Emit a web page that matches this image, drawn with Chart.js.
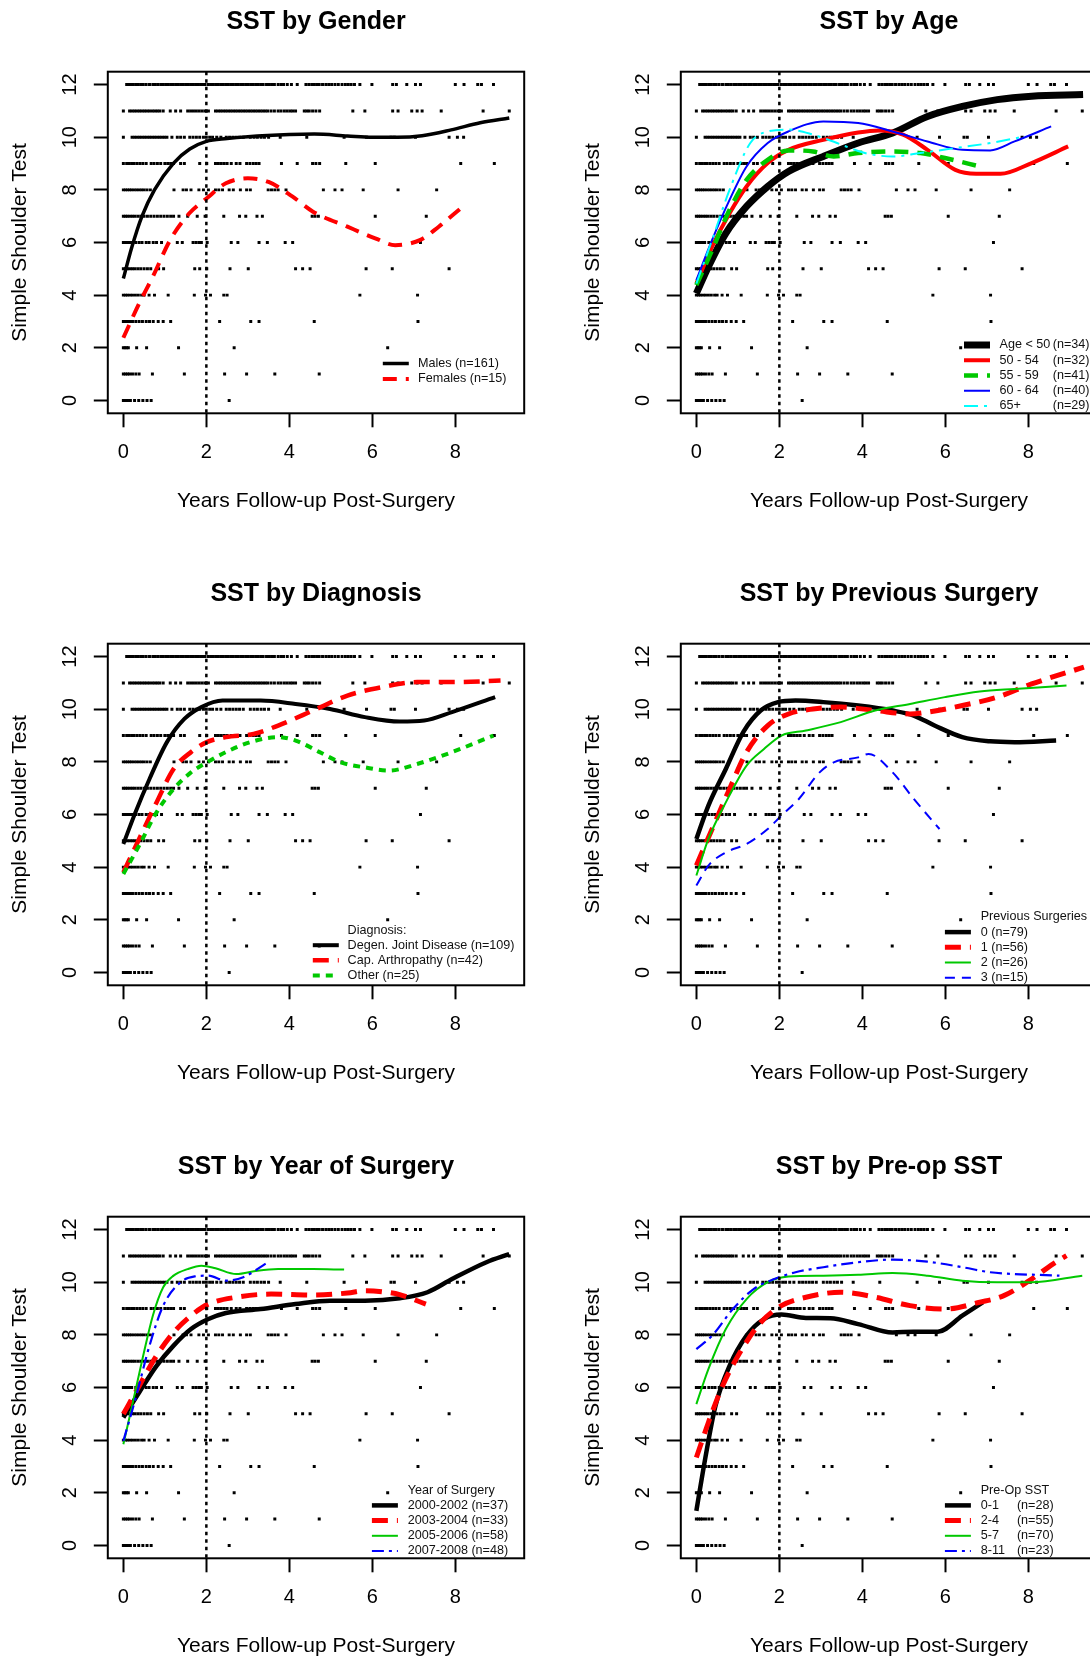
<!DOCTYPE html>
<html lang="en">
<head>
<meta charset="UTF-8">
<title>SST by subgroup</title>
<script src="https://cdn.jsdelivr.net/npm/chart.js"></script>
<style>
  html, body { margin: 0; padding: 0; background: #fff; overflow: hidden; width: 1090px; height: 1659px; }
  canvas { position: absolute; }
</style>
</head>
<body>
<canvas id="gender" width="545" height="572" style="left:0;top:0"></canvas>
<canvas id="age" width="545" height="572" style="left:573px;top:0"></canvas>
<canvas id="diagnosis" width="545" height="572" style="left:0;top:572px"></canvas>
<canvas id="previous" width="545" height="572" style="left:573px;top:572px"></canvas>
<canvas id="year" width="545" height="572" style="left:0;top:1145px"></canvas>
<canvas id="preop" width="545" height="572" style="left:573px;top:1145px"></canvas>

<script>
// ---- data ----
const sstLevels = [0, 1, 2, 3, 4, 5, 6, 7, 8, 9, 10, 11, 12];
// follow-up years of every observation, one list per SST score (same patients in every panel)
const followUpYears = [
  [0, 0.05, 0.1, 0.17, 0.27, 0.37, 0.47, 0.57, 0.67, 2.55],
  [0, 0.05, 0.1, 0.15, 0.22, 0.3, 0.38, 0.7, 1.47, 2.44, 2.97, 3.65, 4.72],
  [0, 0.04, 0.08, 0.12, 0.32, 0.56, 1.33, 2.67, 6.37],
  [0, 0.05, 0.1, 0.15, 0.22, 0.3, 0.38, 0.46, 0.55, 0.63, 0.72, 0.84, 0.96, 1.14, 2.32, 3.07, 3.27, 4.6, 7.1],
  [0, 0.05, 0.1, 0.16, 0.22, 0.29, 0.36, 0.44, 0.5, 0.62, 0.75, 1.08, 1.71, 1.98, 2.1, 2.42, 2.5, 5.7, 7.09],
  [0, 0.05, 0.1, 0.16, 0.22, 0.28, 0.35, 0.42, 0.5, 0.58, 0.66, 0.85, 0.97, 1.72, 1.84, 2.01, 2.57, 3.01, 4.15, 4.32, 4.5, 5.85, 6.48, 7.85],
  [0, 0.05, 0.1, 0.15, 0.2, 0.3, 0.38, 0.45, 0.55, 0.62, 0.72, 0.8, 0.92, 1.3, 1.42, 1.68, 1.75, 1.82, 1.88, 2.02, 2.6, 2.76, 3.27, 3.47, 3.9, 4.08, 7.16],
  [0, 0.05, 0.1, 0.16, 0.22, 0.28, 0.35, 0.42, 0.5, 0.58, 0.66, 0.74, 0.82, 0.9, 0.98, 1.06, 1.14, 1.21, 1.34, 1.55, 1.78, 1.97, 2.42, 2.8, 2.95, 3.22, 3.35, 4.55, 4.62, 4.7, 6.07, 7.3],
  [0, 0.05, 0.1, 0.15, 0.2, 0.26, 0.32, 0.38, 0.44, 0.5, 0.57, 0.65, 1.22, 1.44, 1.52, 1.63, 1.82, 1.93, 2.05, 2.22, 2.3, 2.39, 2.55, 2.65, 2.82, 2.97, 3.06, 3.49, 3.57, 3.65, 3.73, 3.92, 4.82, 5.1, 5.27, 5.78, 6.62, 7.55],
  [0, 0.08, 0.14, 0.2, 0.26, 0.33, 0.4, 0.47, 0.55, 0.67, 0.74, 0.82, 0.9, 1.0, 1.07, 1.14, 1.21, 1.38, 1.47, 1.84, 2.01, 2.22, 2.29, 2.36, 2.43, 2.5, 2.6, 2.72, 2.81, 2.97, 3.05, 3.13, 3.2, 3.27, 3.81, 4.19, 4.56, 4.64, 4.73, 5.36, 6.07, 8.13, 8.94],
  [0, 0.21, 0.27, 0.33, 0.39, 0.45, 0.51, 0.57, 0.63, 0.69, 0.75, 0.81, 0.87, 0.93, 0.99, 1.05, 1.17, 1.3, 1.38, 1.47, 1.6, 1.68, 1.76, 1.84, 1.93, 2.0, 2.08, 2.15, 2.25, 2.35, 2.48, 2.56, 2.64, 2.72, 2.8, 2.89, 3.06, 3.15, 3.23, 3.32, 3.4, 3.5, 3.78, 4.42, 5.32, 5.86, 6.45, 6.53, 7.04, 7.85, 8.05, 8.2],
  [0, 0.15, 0.21, 0.27, 0.33, 0.39, 0.45, 0.51, 0.57, 0.63, 0.7, 0.76, 0.82, 0.88, 0.96, 1.13, 1.26, 1.38, 1.55, 1.62, 1.69, 1.76, 1.83, 1.9, 1.97, 2.05, 2.22, 2.28, 2.34, 2.4, 2.46, 2.52, 2.58, 2.64, 2.7, 2.76, 2.82, 2.88, 2.94, 3.0, 3.06, 3.12, 3.18, 3.24, 3.3, 3.36, 3.42, 3.48, 3.56, 3.64, 3.73, 3.8, 3.88, 3.95, 4.02, 4.08, 4.15, 4.36, 4.42, 4.48, 4.56, 4.64, 4.73, 5.53, 5.82, 6.49, 6.62, 6.95, 7.08, 7.2, 7.66, 8.67, 9.3],
  [0.08, 0.13, 0.18, 0.24, 0.3, 0.36, 0.42, 0.48, 0.55, 0.63, 0.71, 0.77, 0.83, 0.9, 0.96, 1.02, 1.08, 1.14, 1.2, 1.26, 1.32, 1.38, 1.44, 1.5, 1.56, 1.62, 1.68, 1.74, 1.8, 1.86, 1.92, 1.97, 2.05, 2.11, 2.17, 2.23, 2.29, 2.35, 2.41, 2.47, 2.53, 2.59, 2.65, 2.71, 2.77, 2.83, 2.89, 2.95, 3.01, 3.07, 3.13, 3.19, 3.25, 3.31, 3.37, 3.45, 3.52, 3.58, 3.64, 3.73, 3.8, 3.86, 3.95, 4.05, 4.19, 4.4, 4.47, 4.54, 4.6, 4.66, 4.72, 4.8, 4.88, 4.95, 5.02, 5.1, 5.18, 5.27, 5.35, 5.42, 5.49, 5.57, 5.7, 5.99, 6.49, 6.58, 6.83, 7.04, 7.16, 8.0, 8.21, 8.54, 8.63, 8.92]
];
const refYear = 2;

// smoothed curves, [years, SST]
const genderMales = [[0,4.63],[0.2,5.8],[0.45,7.0],[0.75,8.0],[1.2,9.0],[1.6,9.55],[2.0,9.84],[2.5,9.95],[3,10.02],[4,10.1],[4.6,10.12],[5.4,10.05],[6,10.0],[6.6,10.0],[7.2,10.06],[7.9,10.28],[8.6,10.55],[9.3,10.73]];
const genderFemales = [[0,2.38],[0.38,3.68],[0.71,4.7],[1.13,6.1],[1.59,7.11],[2.01,7.68],[2.47,8.25],[3.0,8.44],[3.5,8.3],[4.07,7.75],[4.57,7.17],[5.4,6.6],[6.07,6.16],[6.55,5.9],[7.16,6.1],[7.6,6.6],[8.13,7.3]];

const ageUnder50 = [[0,4.06],[0.29,5.08],[0.71,6.35],[1.21,7.37],[1.72,8.13],[2.22,8.7],[3.06,9.27],[3.9,9.78],[4.73,10.16],[5.57,10.79],[6.41,11.17],[7.25,11.43],[8.08,11.56],[9.32,11.62]];
const age50to54 = [[0,4.44],[0.38,5.84],[0.8,7.11],[1.21,8.13],[1.72,9.02],[2.22,9.52],[3.06,9.9],[3.9,10.18],[4.4,10.26],[4.98,10.1],[5.57,9.52],[6.24,8.76],[6.74,8.61],[7.33,8.61],[8.08,9.02],[8.96,9.65]];
const age55to59 = [[0,4.38],[0.38,5.71],[0.8,7.24],[1.21,8.38],[1.72,9.14],[2.22,9.5],[2.81,9.46],[3.31,9.27],[3.9,9.4],[4.73,9.46],[5.4,9.4],[5.99,9.21],[6.83,8.89]];
const age60to64 = [[0,4.57],[0.38,6.1],[0.8,7.62],[1.21,8.89],[1.72,9.78],[2.22,10.22],[3.06,10.6],[3.9,10.54],[4.73,10.22],[5.57,9.84],[6.41,9.52],[7.08,9.5],[7.67,9.84],[8.55,10.41]];
const age65plus = [[0,4.44],[0.38,6.1],[0.8,8.0],[1.3,9.78],[1.72,10.22],[2.22,10.29],[2.81,10.1],[3.39,9.78],[4.06,9.4],[4.73,9.27],[5.4,9.4],[6.24,9.59],[7.08,9.78],[7.92,10.03]];

const diagDJD = [[0,4.88],[0.29,6.08],[0.63,7.35],[1.05,8.75],[1.47,9.63],[1.88,10.08],[2.39,10.33],[3.31,10.33],[4.15,10.2],[4.98,10.01],[5.82,9.7],[6.66,9.53],[7.25,9.57],[7.92,9.89],[8.96,10.46]];
const diagCapArth = [[0,3.8],[0.38,5.07],[0.8,6.46],[1.21,7.73],[1.63,8.37],[2.01,8.75],[2.47,8.94],[3.14,9.06],[3.73,9.38],[4.57,9.95],[5.4,10.52],[6.24,10.84],[7.08,11.03],[7.92,11.03],[9.09,11.09]];
const diagOther = [[0,3.74],[0.38,4.82],[0.8,6.08],[1.21,6.97],[1.63,7.6],[2.01,7.98],[2.47,8.37],[3.06,8.75],[3.73,8.94],[4.15,8.81],[4.73,8.37],[5.24,7.98],[5.82,7.79],[6.41,7.67],[7.08,7.92],[7.92,8.37],[8.92,9.0]];

const prevSurg0 = [[0,5.07],[0.29,6.34],[0.71,7.73],[1.13,9.13],[1.55,9.95],[1.97,10.27],[2.39,10.33],[3.06,10.27],[3.9,10.14],[4.73,9.95],[5.24,9.76],[5.74,9.38],[6.41,8.94],[7.08,8.78],[7.67,8.75],[8.67,8.81]];
const prevSurg1 = [[0,4.06],[0.38,5.45],[0.8,6.97],[1.21,8.37],[1.72,9.38],[2.22,9.82],[2.81,10.01],[3.48,10.08],[4.31,9.95],[5.15,9.82],[5.57,9.89],[6.41,10.14],[7.25,10.46],[8.08,10.96],[9.34,11.6]];
const prevSurg2 = [[0,3.68],[0.29,5.07],[0.71,6.46],[1.21,7.86],[1.63,8.49],[2.05,9.0],[2.64,9.19],[3.48,9.51],[4.31,9.95],[5.15,10.2],[5.99,10.46],[6.83,10.67],[7.67,10.77],[8.92,10.9]];
const prevSurg3 = [[0,3.3],[0.29,4.06],[0.71,4.56],[1.21,4.88],[1.72,5.45],[2.05,5.96],[2.47,6.59],[2.97,7.6],[3.31,7.98],[3.9,8.17],[4.15,8.3],[4.73,7.6],[5.24,6.59],[5.86,5.45]];

const year0002 = [[0,4.86],[0.38,5.81],[0.8,6.82],[1.21,7.59],[1.63,8.22],[2.05,8.6],[2.47,8.83],[3.31,8.98],[4.15,9.17],[4.98,9.3],[5.82,9.3],[6.66,9.39],[7.33,9.62],[7.92,10.12],[8.75,10.76],[9.3,11.07]];
const year0304 = [[0,4.99],[0.38,6.06],[0.8,7.21],[1.21,8.09],[1.63,8.73],[2.05,9.17],[2.72,9.43],[3.56,9.55],[4.57,9.51],[5.4,9.59],[5.82,9.68],[6.24,9.64],[6.66,9.53],[7.29,9.17]];
const year0506 = [[0,3.84],[0.21,5.3],[0.46,7.08],[0.71,8.73],[0.96,9.81],[1.21,10.25],[1.55,10.5],[1.88,10.63],[2.22,10.53],[2.72,10.31],[3.23,10.44],[3.73,10.5],[4.57,10.5],[5.32,10.48]];
const year0708 = [[0,3.97],[0.29,5.56],[0.63,7.59],[0.96,9.11],[1.38,10.0],[1.72,10.22],[2.05,10.25],[2.47,10.06],[2.89,10.19],[3.48,10.76]];

const preop01 = [[0,1.31],[0.21,3.27],[0.46,5.3],[0.8,6.82],[1.21,7.97],[1.63,8.6],[2.05,8.77],[2.64,8.64],[3.23,8.63],[3.9,8.41],[4.73,8.09],[5.24,8.12],[5.82,8.12],[6.41,8.73],[6.91,9.24]];
const preop24 = [[0,3.34],[0.29,4.67],[0.63,6.06],[1.05,7.33],[1.55,8.47],[2.05,9.11],[2.64,9.43],[3.48,9.62],[4.31,9.43],[5.15,9.11],[5.99,8.98],[6.83,9.24],[7.41,9.49],[8.08,10.12],[8.59,10.69],[8.92,11.01]];
const preop57 = [[0,5.37],[0.29,6.7],[0.71,8.22],[1.21,9.36],[1.72,10.0],[2.22,10.22],[3.06,10.25],[3.9,10.28],[4.73,10.35],[5.57,10.25],[6.41,10.06],[7.25,10.0],[8.08,10.0],[9.3,10.25]];
const preop811 = [[0,7.46],[0.38,7.97],[0.88,8.98],[1.38,9.74],[1.88,10.12],[2.39,10.38],[3.06,10.57],[3.9,10.76],[4.73,10.86],[5.57,10.78],[6.41,10.57],[7.08,10.38],[7.67,10.31],[8.25,10.28],[8.75,10.25]];

const FONT = "'Liberation Sans', Arial, Helvetica, sans-serif";
const GREEN = '#00c800';

// every observation as a point
const dotPoints = [];
followUpYears.forEach((row, i) => row.forEach(yr => dotPoints.push({ x: yr, y: sstLevels[i] })));

// R-style decorations: box, dotted line at 2 years, title, legend
function rPlot(cfg) {
    return {
        id: 'rPlot',
        afterDatasetsDraw(chart) {
            const ctx = chart.ctx, a = chart.chartArea;
            const px = chart.scales.x.getPixelForValue(refYear);
            ctx.save();
            ctx.strokeStyle = '#000';
            ctx.lineWidth = 2.5;
            ctx.setLineDash([3.5, 4]);
            ctx.beginPath(); ctx.moveTo(px, a.top); ctx.lineTo(px, a.bottom); ctx.stroke();
            ctx.setLineDash([]);
            ctx.lineWidth = 2;
            ctx.strokeRect(a.left, a.top, a.right - a.left, a.bottom - a.top);

            ctx.fillStyle = '#000';
            ctx.textBaseline = 'middle';
            ctx.textAlign = 'center';
            ctx.font = 'bold 25px ' + FONT;
            ctx.fillText(cfg.title, (a.left + a.right) / 2, 21.7);

            const lg = cfg.legend;
            const rows = (lg.heading ? 1 : 0) + cfg.series.length;
            let y = a.bottom - lg.last - (rows - 1) * lg.gap;
            ctx.font = '12.6px ' + FONT;
            ctx.textAlign = 'left';
            ctx.fillStyle = '#111';
            if (lg.heading) { ctx.fillText(lg.heading, a.left + lg.textX, y); y += lg.gap; }
            cfg.series.forEach(s => {
                ctx.strokeStyle = s.color;
                ctx.lineWidth = s.width;
                ctx.setLineDash(s.dash);
                ctx.beginPath();
                ctx.moveTo(a.left + lg.lineX, y);
                ctx.lineTo(a.left + lg.lineX + 26, y);
                ctx.stroke();
                ctx.setLineDash([]);
                ctx.fillText(s.label, a.left + lg.textX, y);
                if (s.count) ctx.fillText(s.count, a.left + lg.countX, y);
                y += lg.gap;
            });
            ctx.restore();
        }
    };
}

function makePanel(id, cfg) {
    const n = cfg.series.length;
    const datasets = cfg.series.map((s, i) => ({
        data: s.data,
        showLine: true,
        borderColor: s.color,
        borderWidth: s.width,
        borderDash: s.dash,
        borderCapStyle: 'butt',
        pointRadius: 0,
        cubicInterpolationMode: 'monotone',
        order: n - i
    }));
    datasets.push({
        data: dotPoints,
        showLine: false,
        pointStyle: 'rect',
        pointRadius: 2.1,
        pointBackgroundColor: '#000',
        pointBorderWidth: 0,
        order: 50
    });
    const tickFont = { family: FONT, size: 20 };
    const titleFont = { family: FONT, size: 21 };
    const grid = { drawOnChartArea: false, tickLength: 14, tickWidth: 2, tickColor: '#000' };
    new Chart(document.getElementById(id), {
        type: 'scatter',
        data: { datasets },
        options: {
            responsive: false,
            animation: false,
            devicePixelRatio: 1,
            events: [],
            layout: { padding: { top: 71.7, right: 20.8, bottom: 0, left: 0 } },
            plugins: { legend: { display: false }, tooltip: { enabled: false } },
            scales: {
                x: {
                    type: 'linear', min: -0.375, max: 9.66,
                    border: { display: false },
                    grid,
                    ticks: { stepSize: 2, includeBounds: false, autoSkip: false, maxRotation: 0, padding: 12.7, color: '#000', font: tickFont },
                    title: { display: true, text: 'Years Follow-up Post-Surgery', color: '#000', font: titleFont, padding: { top: 0, bottom: 57.7 } },
                    afterFit(s) { s.height = 158.7; }
                },
                y: {
                    type: 'linear', min: -0.49, max: 12.49,
                    border: { display: false },
                    grid,
                    ticks: { stepSize: 2, includeBounds: false, autoSkip: false, minRotation: 90, maxRotation: 90, crossAlign: 'center', padding: 11.7, color: '#000', font: tickFont },
                    title: { display: true, text: 'Simple Shoulder Test', color: '#000', font: titleFont, padding: { top: 7.2, bottom: 0 } },
                    afterFit(s) { s.width = 107.8; }
                }
            }
        },
        plugins: [rPlot(cfg)]
    });
}

makePanel('gender', {
    title: 'SST by Gender',
    legend: { lineX: 275, textX: 310.2, last: 34.3, gap: 15.5 },
    series: [
        { label: 'Males (n=161)', data: genderMales, color: '#000', width: 3.5, dash: [] },
        { label: 'Females (n=15)', data: genderFemales, color: '#ff0000', width: 4, dash: [14, 9] }
    ]
});

makePanel('age', {
    title: 'SST by Age',
    legend: { lineX: 283.2, textX: 318.7, countX: 371.9, last: 7.3, gap: 15.25 },
    series: [
        { label: 'Age < 50', count: '(n=34)', data: ageUnder50, color: '#000', width: 7, dash: [] },
        { label: '50 - 54', count: '(n=32)', data: age50to54, color: '#ff0000', width: 4, dash: [] },
        { label: '55 - 59', count: '(n=41)', data: age55to59, color: GREEN, width: 4.5, dash: [14, 9] },
        { label: '60 - 64', count: '(n=40)', data: age60to64, color: '#0000ff', width: 2, dash: [] },
        { label: '65+', count: '(n=29)', data: age65plus, color: '#00ffff', width: 2, dash: [14, 6, 3, 6] }
    ]
});

makePanel('diagnosis', {
    title: 'SST by Diagnosis',
    legend: { heading: 'Diagnosis:', lineX: 205, textX: 239.8, last: 9.9, gap: 15.1 },
    series: [
        { label: 'Degen. Joint Disease (n=109)', data: diagDJD, color: '#000', width: 4, dash: [] },
        { label: 'Cap. Arthropathy (n=42)', data: diagCapArth, color: '#ff0000', width: 4.5, dash: [16, 9] },
        { label: 'Other (n=25)', data: diagOther, color: GREEN, width: 4, dash: [7, 6] }
    ]
});

makePanel('previous', {
    title: 'SST by Previous Surgery',
    legend: { heading: 'Previous Surgeries', lineX: 264.1, textX: 299.9, last: 7.6, gap: 15.2 },
    series: [
        { label: '0 (n=79)', data: prevSurg0, color: '#000', width: 4.5, dash: [] },
        { label: '1 (n=56)', data: prevSurg1, color: '#ff0000', width: 5, dash: [16, 9] },
        { label: '2 (n=26)', data: prevSurg2, color: GREEN, width: 2, dash: [] },
        { label: '3 (n=15)', data: prevSurg3, color: '#0000ff', width: 2, dash: [10, 7] }
    ]
});

makePanel('year', {
    title: 'SST by Year of Surgery',
    legend: { heading: 'Year of Surgery', lineX: 264.1, textX: 299.9, last: 7.3, gap: 15.2 },
    series: [
        { label: '2000-2002 (n=37)', data: year0002, color: '#000', width: 4.5, dash: [] },
        { label: '2003-2004 (n=33)', data: year0304, color: '#ff0000', width: 5, dash: [16, 9] },
        { label: '2005-2006 (n=58)', data: year0506, color: GREEN, width: 2, dash: [] },
        { label: '2007-2008 (n=48)', data: year0708, color: '#0000ff', width: 2.2, dash: [12, 5, 3, 5] }
    ]
});

makePanel('preop', {
    title: 'SST by Pre-op SST',
    legend: { heading: 'Pre-Op SST', lineX: 264.1, textX: 299.9, countX: 336.1, last: 7.3, gap: 15.2 },
    series: [
        { label: '0-1', count: '(n=28)', data: preop01, color: '#000', width: 4.5, dash: [] },
        { label: '2-4', count: '(n=55)', data: preop24, color: '#ff0000', width: 5, dash: [16, 9] },
        { label: '5-7', count: '(n=70)', data: preop57, color: GREEN, width: 2, dash: [] },
        { label: '8-11', count: '(n=23)', data: preop811, color: '#0000ff', width: 2.2, dash: [12, 5, 3, 5] }
    ]
});
</script>
</body>
</html>
